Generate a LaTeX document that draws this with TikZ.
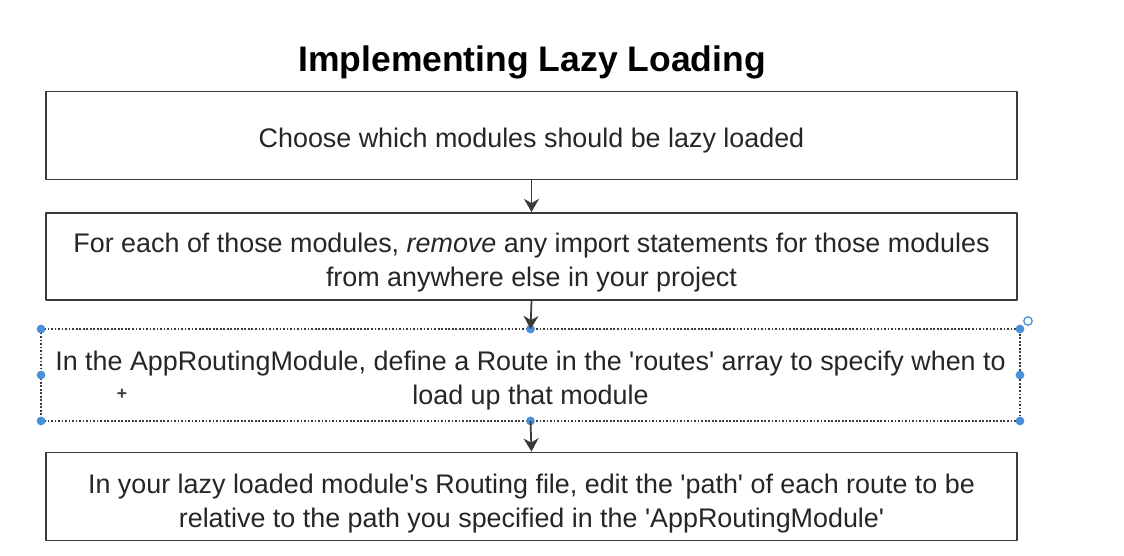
\documentclass[tikz,border=0pt]{standalone}
\usepackage{fontspec}
\setmainfont{Liberation Sans}
\usetikzlibrary{arrows.meta}
\definecolor{inkgray}{HTML}{262626}
\definecolor{linegray}{HTML}{3A3A3A}
\definecolor{handleblue}{HTML}{4A90D9}
\newcommand{\sq}{\textquotesingle}

\begin{document}
\begin{tikzpicture}[>={Stealth[length=7.5pt,width=8.5pt]},line join=round,
  stepbox/.style={draw=linegray,line width=1.1pt,minimum width=19.42cm,
    minimum height=1.76cm,inner sep=0pt},
  steptext/.style={align=center,font=\fontsize{15.3}{19.3}\selectfont,
    text=inkgray,inner sep=0pt},
  flow/.style={->,draw=linegray,line width=1pt},
  grip/.style={circle,fill=handleblue,inner sep=0pt,minimum size=5pt}]

  \useasboundingbox[fill=white] (0,0) rectangle (22.48,11.1);

  % ---- title --------------------------------------------------------------
  \node[font=\bfseries\fontsize{20.2}{24}\selectfont,text=black] (title)
        at (10.64,9.85) {Implementing Lazy Loading};

  % ---- the four steps -----------------------------------------------------
  \node[stepbox] (choose) at (10.63,8.39) {};
  \node[steptext] (chooseText) at ([yshift=-0.11cm]choose.center)
        {Choose which modules should be lazy loaded};

  \node[stepbox,minimum height=1.74cm] (strip) at (10.63,5.97) {};
  \node[steptext] (stripText) at ([yshift=-0.12cm]strip.center)
        {For each of those modules, \textit{remove} any import statements for those modules\\
         from anywhere else in your project};

  \node[stepbox,draw=none,minimum width=19.54cm,minimum height=1.8cm] (route)
        at (10.61,3.6) {};
  \node[steptext] (routeText) at ([yshift=-0.12cm]route.center)
        {In the AppRoutingModule, define a Route in the \sq routes\sq{} array to specify when to\\
         load up that module};

  \node[stepbox] (relpath) at (10.63,1.17) {};
  \node[steptext] (relpathText) at ([yshift=-0.14cm]relpath.center)
        {In your lazy loaded module\sq s Routing file, edit the \sq path\sq{} of each route to be\\
         relative to the path you specified in the \sq AppRoutingModule\sq};

  % selected box: dotted outline with its grips
  \draw[linegray,line width=1pt,densely dotted]
        (route.north west) rectangle (route.south east);
  \foreach \g in {north west,north,north east,west,east,south west,south,south east}
     \node[grip] at (route.\g) {};
  \coordinate (spin) at (20.56,4.68);
  \draw[handleblue,line width=0.7pt] (spin) circle (2.4pt);
  \node[text=linegray,font=\normalsize\bfseries] (cursor) at (2.44,3.22) {+};

  % ---- connectors ---------------------------------------------------------
  \draw[flow] (choose.south) -- (strip.north);
  \draw[flow] (strip.south) -- (route.north);
  \draw[flow] (route.south) -- (relpath.north);

\end{tikzpicture}
\end{document}
